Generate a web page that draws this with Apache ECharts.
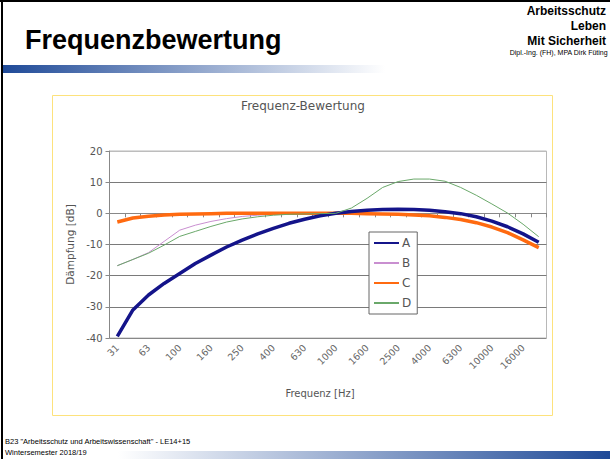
<!DOCTYPE html>
<html><head><meta charset="utf-8">
<script src="https://cdn.jsdelivr.net/npm/echarts@6/dist/echarts.min.js"></script>
<style>html,body{margin:0;padding:0;background:#fff}#c{width:610px;height:459px}</style>
</head><body><div id="c"></div>
<script>
const categories = ['31','50','63','80','100','125','160','200','250','315','400','500','630','800','1000','1250','1600','2000','2500','3150','4000','5000','6300','8000','10000','12500','16000','20000'];
const seriesA = [-39.5,-31,-26.2,-22.5,-19.3,-16.1,-13.4,-10.8,-8.6,-6.6,-4.8,-3.2,-1.9,-0.8,0,0.6,1.0,1.2,1.3,1.2,1.0,0.5,-0.1,-1.1,-2.5,-4.3,-6.6,-9.3];
const seriesB = [-16.8,-14.8,-12.6,-9.0,-5.4,-3.8,-2.6,-1.7,-1.0,-0.6,-0.3,-0.2,-0.1,0,0,0,0,-0.1,-0.2,-0.4,-0.7,-1.2,-1.9,-2.9,-4.3,-6.1,-8.4,-11.1];
const seriesC = [-2.8,-1.5,-0.9,-0.5,-0.3,-0.2,-0.1,0,0,0,0,0,0,0,0,0,-0.1,-0.2,-0.3,-0.5,-0.8,-1.3,-2.0,-3.0,-4.4,-6.2,-8.5,-11.0];
const seriesD = [-16.8,-14.8,-12.8,-10.2,-7.4,-5.8,-4.2,-2.8,-1.8,-1.1,-0.6,-0.3,-0.2,-0.1,0,1.7,4.8,8.3,10.2,11.0,11.0,10.3,8.3,5.8,3.0,0.1,-3.5,-7.5];
const yTicks = [-40,-30,-20,-10,0,10,20];

const chart = echarts.init(document.getElementById('c'), null, {renderer:'svg'});
const chartFont = 'DejaVu Sans';
const slideFont = 'Liberation Sans';
function line(name, data, color, width, z){
  return {name, type:'line', data, symbol:'none', showSymbol:false, z,
    lineStyle:{color, width}, itemStyle:{color}, animation:false};
}
chart.setOption({
  animation:false,
  graphic:[
    {type:'rect', shape:{x:0,y:0,width:610,height:2}, style:{fill:'#000'}},
    {type:'rect', shape:{x:1,y:0,width:2,height:459}, style:{fill:'#000'}},
    {type:'rect', shape:{x:3,y:65,width:382,height:8}, style:{fill:new echarts.graphic.LinearGradient(0,0,1,0,[{offset:0,color:'#1f4a98'},{offset:1,color:'#ffffff'}])}},
    {type:'rect', shape:{x:118,y:451,width:492,height:8}, style:{fill:new echarts.graphic.LinearGradient(0,0,1,0,[{offset:0,color:'#ffffff'},{offset:1,color:'#1f4a98'}])}},
    {type:'text', left:25, top:26, style:{text:'Frequenzbewertung', font:'bold 27px "'+slideFont+'"', fill:'#000'}},
    {type:'text', right:4, top:5, style:{text:'Arbeitsschutz', font:'bold 12px "'+slideFont+'"', fill:'#000', align:'right'}},
    {type:'text', right:4, top:20, style:{text:'Leben', font:'bold 12px "'+slideFont+'"', fill:'#000', align:'right'}},
    {type:'text', right:4, top:35, style:{text:'Mit Sicherheit', font:'bold 12px "'+slideFont+'"', fill:'#000', align:'right'}},
    {type:'text', right:2, top:49, style:{text:'Dipl.-Ing. (FH), MPA Dirk Füting', font:'7px "'+slideFont+'"', fill:'#000', align:'right'}},
    {type:'text', left:5, top:437, style:{text:'B23 "Arbeitsschutz und Arbeitswissenschaft" - LE14+15', font:'7.5px "'+slideFont+'"', fill:'#000'}},
    {type:'text', left:5, top:448, style:{text:'Wintersemester 2018/19', font:'7.5px "'+slideFont+'"', fill:'#000'}},
    {type:'rect', shape:{x:52.5,y:95.5,width:500,height:320}, style:{fill:'none', stroke:'#fde27c', lineWidth:1}, z:-1},
    {type:'text', x:303, y:106, style:{text:'Frequenz-Bewertung', font:'12px "'+chartFont+'"', fill:'#555', align:'center', verticalAlign:'middle'}},
    {type:'text', x:320, y:393, style:{text:'Frequenz [Hz]', font:'10px "'+chartFont+'"', fill:'#555', align:'center', verticalAlign:'middle'}}
  ],
  grid:{left:109.5, right:63.5, top:151, bottom:121, show:true, borderColor:'#b8b8b8', borderWidth:1, backgroundColor:'#fff'},
  legend:{
    orient:'vertical', left:369, top:232, padding:[5,6,5,4], itemWidth:25, itemHeight:12, itemGap:8,
    borderColor:'#666', borderWidth:1, backgroundColor:'#fff',
    itemStyle:{opacity:0},
    textStyle:{fontFamily:chartFont, fontSize:12, color:'#555', padding:[0,0,0,-2]},
    data:['A','B','C','D']
  },
  xAxis:{
    type:'category', data:categories, boundaryGap:true,
    axisLine:{lineStyle:{color:'#888'}},
    axisTick:{show:true, length:4, interval:0, lineStyle:{color:'#888'}},
    axisLabel:{interval:1, rotate:45, margin:8, fontFamily:chartFont, fontSize:9.5, color:'#666'},
    splitLine:{show:false}
  },
  yAxis:{
    type:'value', min:-40, max:20, interval:10,
    name:'Dämpfung [dB]', nameLocation:'middle', nameGap:33, nameRotate:90,
    nameTextStyle:{fontFamily:chartFont, fontSize:10.5, color:'#555'},
    axisLine:{show:true, lineStyle:{color:'#888'}},
    axisTick:{show:true, length:4, lineStyle:{color:'#888'}},
    axisLabel:{fontFamily:chartFont, fontSize:10, color:'#555', margin:7},
    splitLine:{show:true, lineStyle:{color:['#888','#7a7a7a','#7a7a7a','#7a7a7a','#7a7a7a','#7a7a7a','#bdbdbd'], width:1}}
  },
  series:[
    line('A', seriesA, '#14148a', 3.5, 5),
    line('B', seriesB, '#c98fd0', 1, 3),
    line('C', seriesC, '#ff6a10', 3.5, 4),
    line('D', seriesD, '#6aa86a', 1, 6)
  ]
});
</script></body></html>
